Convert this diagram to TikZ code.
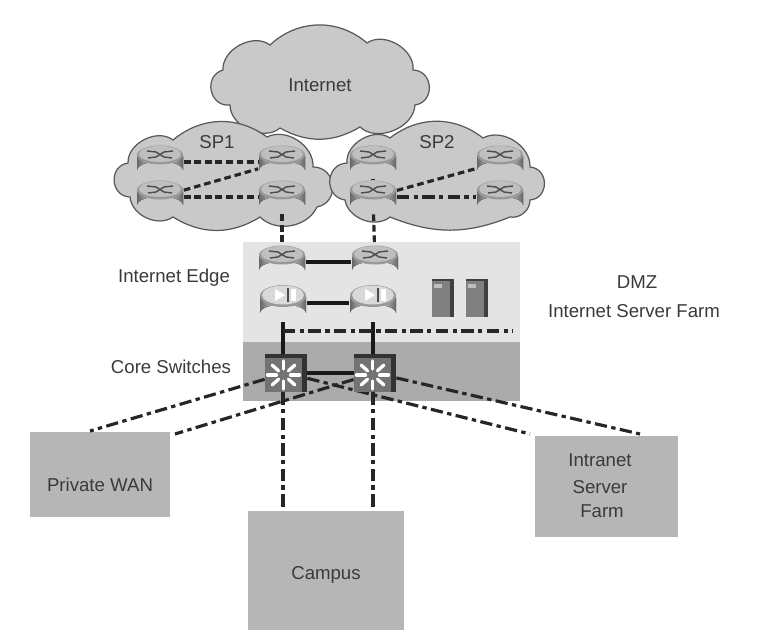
\documentclass[tikz,border=0pt]{standalone}
\usepackage{fontspec}
\setmainfont{Liberation Sans}
\pgfdeclarelayer{links}
\pgfsetlayers{links,main}
\definecolor{cloudgrey}{HTML}{C9C9C9}
\definecolor{boxgrey}{HTML}{B6B6B6}
\definecolor{edgeband}{HTML}{E4E4E4}
\definecolor{coreband}{HTML}{ABABAB}
\definecolor{labelgrey}{HTML}{3A3A3A}

\begin{document}
\begin{tikzpicture}[x=0.02cm, y=-0.02cm,
    font=\fontsize{10.6}{12}\selectfont,
    label/.style={text=labelgrey, inner sep=0pt},
    wolk/.style={draw=black!65, fill=cloudgrey, line width=0.7pt},
    puff/.style={bend left=#1},
    sidepuff/.style={bend left=85, looseness=1.5},
    router/.style={minimum width=0.94cm, minimum height=0.68cm, inner sep=0pt, path picture={
        \begin{scope}[shift={(path picture bounding box.center)}]
          \fill[left color=black!60, right color=black!60, middle color=white] (-23,-6) -- (-23,8) arc[start angle=180, end angle=360, x radius=23, y radius=8.5] -- (23,-6) -- cycle;
          \fill[black!40] (0,-7) ellipse[x radius=23, y radius=9.5];
          \fill[black!25] (0,-8) ellipse[x radius=21, y radius=8];
          \draw[black!70, thick] (-13,-11) -- (-4,-10) -- (4,-5) -- (12,-4) (13,-11) -- (4,-10) -- (-4,-5) -- (-12,-4);
        \end{scope}}},
    director/.style={minimum width=0.94cm, minimum height=0.76cm, inner sep=0pt, path picture={
        \begin{scope}[shift={(path picture bounding box.center)}]
          \fill[left color=black!60, right color=black!60, middle color=white] (-23,-6) -- (-23,10) arc[start angle=180, end angle=360, x radius=23, y radius=8.5] -- (23,-6) -- cycle;
          \fill[black!40] (0,-7) ellipse[x radius=23, y radius=11];
          \fill[black!15] (0,-8) ellipse[x radius=21, y radius=9.5];
          \fill[white] (-8,-14) -- (2,-8) -- (-8,-2) -- cycle;
          \fill[black!70] (4,-15) rectangle (6,-1);
          \fill[white] (8,-14) rectangle (13,-2);
        \end{scope}}},
    corebox/.style={minimum width=0.84cm, minimum height=0.76cm, inner sep=0pt, path picture={
        \begin{scope}[shift={(path picture bounding box.center)}]
          \fill[black!80] (-21,-19) rectangle (21,19);
          \fill[black!55] (-21,-15) rectangle (16,19);
          \foreach \a in {0,45,...,315}
            \draw[white, line width=1.9pt, line cap=round] ({-2.5+7*cos(\a)},{2+6*sin(\a)}) -- ({-2.5+16*cos(\a)},{2+14*sin(\a)});
        \end{scope}}},
    server/.style={minimum width=0.44cm, minimum height=0.74cm, inner sep=0pt, path picture={
        \begin{scope}[shift={(path picture bounding box.center)}]
          \fill[black!75] (-11,-19) rectangle (11,19);
          \fill[black!50] (-11,-17) rectangle (7,19);
          \fill[black!25] (-9,-14) rectangle (-1,-10);
        \end{scope}}},
    site/.style={fill=boxgrey, text=labelgrey, inner sep=0pt},
    plain link/.style={draw, black!90, line width=1.8pt},
    dotted link/.style={draw, black!85, line width=1.8pt, dash pattern=on 3.8pt off 2.2pt},
    mixed link/.style={draw, black!85, line width=1.8pt, dash pattern=on 7pt off 2.5pt on 2.5pt off 2.5pt}]
    \useasboundingbox (0,0) rectangle (774,642);

    \node[router] (spone) at (160,162) {};
    \node[router] (sptwo) at (282,162) {};
    \node[router] (spthree) at (160,197) {};
    \node[router] (spfour) at (282,197) {};
    \node[router] (spfive) at (373,162) {};
    \node[router] (spsix) at (500,162) {};
    \node[router] (spseven) at (373,197) {};
    \node[router] (speight) at (500,197) {};

    \node[router] (edgeone) at (282,262) {};
    \node[router] (edgetwo) at (375,262) {};
    \node[director] (fwone) at (283,303) {};
    \node[director] (fwtwo) at (373,303) {};
    \node[server] (srvone) at (443,298) {};
    \node[server] (srvtwo) at (477,298) {};
    \node[corebox] (coreone) at (286,373) {};
    \node[corebox] (coretwo) at (375,373) {};

    \node[label] (internet) at (320,85) {Internet};
    \node[label] (spa) at (217,142) {SP1};
    \node[label] (spb) at (437,142) {SP2};
    \node[label] (edgetext) at (174,278) {Internet Edge};
    \node[label] (coretext) at (171,367) {Core Switches};
    \node[label] (dmz) at (637,282) {DMZ};
    \node[label] (farm) at (634,311) {Internet Server Farm};

    \begin{pgfonlayer}{links}
    % the three clouds, cusp to cusp
    \draw[wolk] (223,70) to[puff=65] (270,45) to[puff=42] (367,43) to[puff=65] (413,70) to[sidepuff] (415,105)
      to[puff=65] (360,127) to[puff=30] (280,128) to[puff=65] (230,105) to[sidepuff] (223,70) -- cycle;
    \draw[wolk] (128,163) to[puff=65] (173,140) to[puff=38] (267,137) to[puff=60] (313,167) to[sidepuff] (317,207)
      to[puff=55] (260,217) to[puff=32] (173,217) to[puff=60] (130,197) to[sidepuff] (128,163) -- cycle;
    \draw[wolk] (347,163) to[puff=65] (390,138) to[puff=38] (483,138) to[puff=60] (530,167) to[sidepuff] (530,200)
      to[puff=50] (510,217) to[puff=22] (390,217) to[puff=60] (345,200) to[sidepuff] (347,163) -- cycle;

    \fill[edgeband] (243,242) rectangle (520,342);
    \fill[coreband] (243,342) rectangle (520,401);

    \node[site, minimum width=2.8cm, minimum height=1.7cm] (wan) at (100,474.5) {};
    \node[site, minimum width=3.12cm, minimum height=2.38cm] (campus) at (326,570.5) {};
    \node[site, minimum width=2.86cm, minimum height=2.02cm] (intranet) at (606.5,486.5) {};

    \coordinate (wanone) at (90,431);
    \coordinate (wantwo) at (175,434);
    \coordinate (campusone) at (283,510);
    \coordinate (campustwo) at (373,510);
    \coordinate (intraone) at (530,434);
    \coordinate (intratwo) at (640,434);
    \coordinate (dmzend) at (513,331);
    \coordinate (dmzstart) at (283,331);

    \draw[dotted link] (spone) -- (sptwo);
    \draw[dotted link] (spthree) -- (sptwo);
    \draw[dotted link] (spthree) -- (spfour);
    \draw[dotted link] (spfive) -- (spseven);
    \draw[dotted link] (spseven) -- (spsix);
    \draw[mixed link] (spseven) -- (speight);
    \draw[dotted link] (spfour) -- (edgeone);
    \draw[dotted link] (spseven) -- (edgetwo);

    \draw[plain link] (edgeone) -- (edgetwo);
    \draw[plain link] (fwone) -- (fwtwo);
    \draw[plain link] (fwone.south) -- (fwone.south |- coreone.north);
    \draw[plain link] (fwtwo.south) -- (fwtwo.south |- coretwo.north);
    \draw[plain link] (coreone) -- (coretwo);
    \draw[mixed link] (dmzstart) -- (dmzend);

    \draw[mixed link] (coreone) -- (wanone);
    \draw[mixed link] (coretwo) -- (wantwo);
    \draw[mixed link] (campusone |- coreone.south) -- (campusone);
    \draw[mixed link] (campustwo |- coretwo.south) -- (campustwo);
    \draw[mixed link] (coreone) -- (intraone);
    \draw[mixed link] (coretwo) -- (intratwo);
    \end{pgfonlayer}

    \node[label] (wantext) at (100,485) {Private WAN};
    \node[label] (campustext) at (326,575) {Campus};
    \node[label] (intraa) at (600,460) {Intranet};
    \node[label] (intrab) at (600,487) {Server};
    \node[label] (intrac) at (602,511) {Farm};
  \end{tikzpicture}
\end{document}
